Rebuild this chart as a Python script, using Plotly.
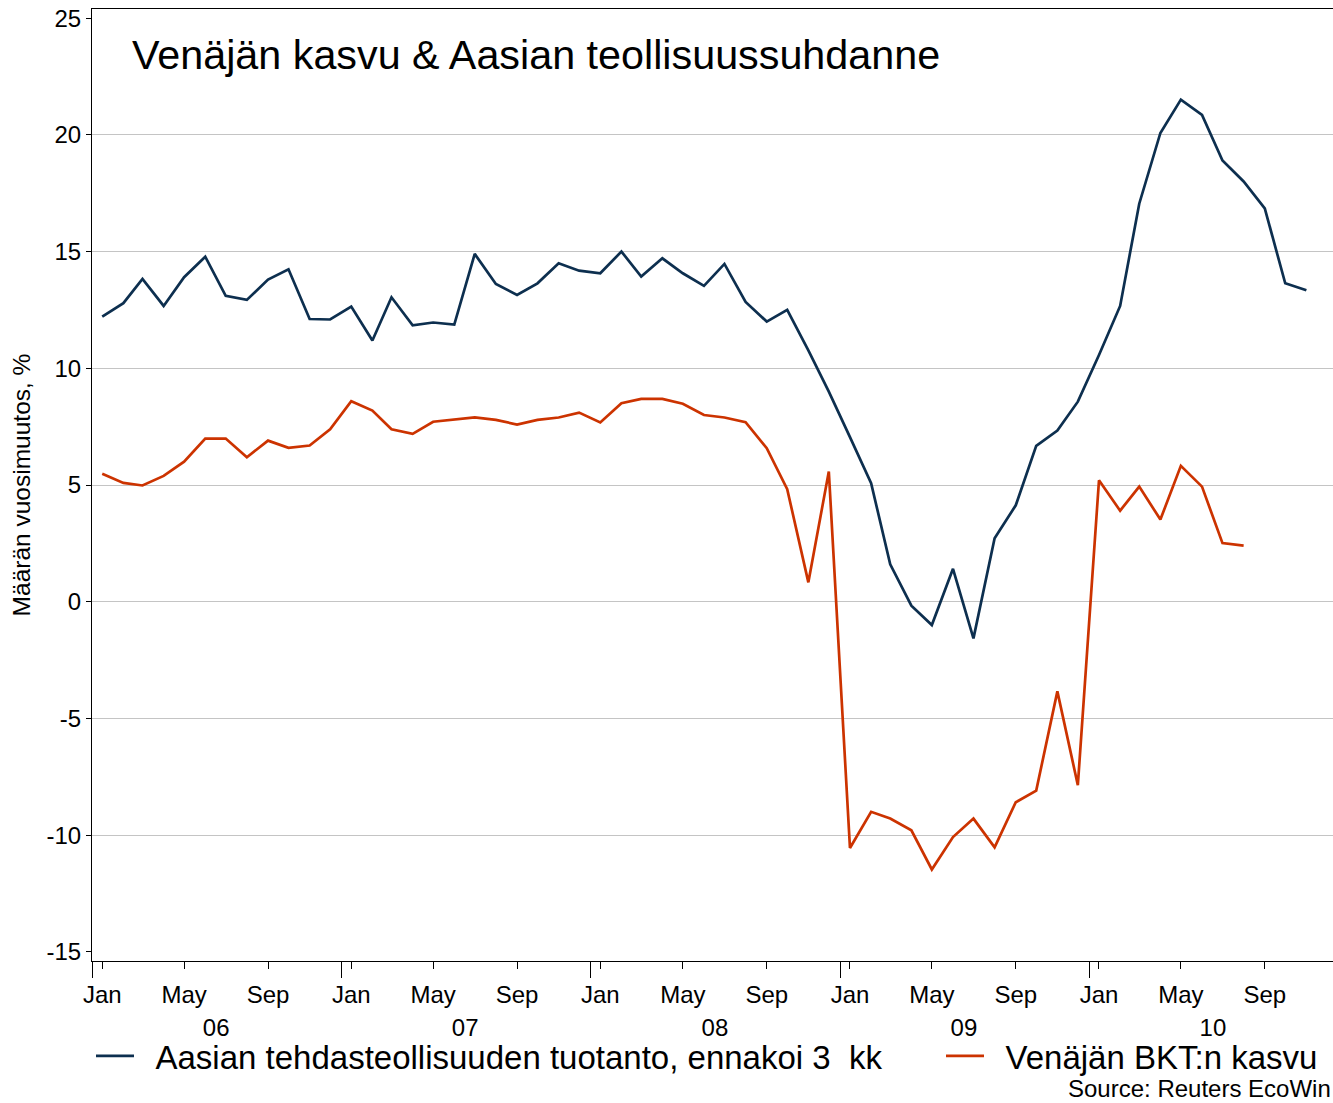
import plotly.graph_objects as go
import pandas as pd

# ---- data ----
asia = [12.21, 12.79, 13.83, 12.67, 13.90, 14.78, 13.10, 12.93, 13.80, 14.24, 12.11, 12.09,
        12.64, 11.19, 13.04, 11.84, 11.96, 11.87, 14.90, 13.61, 13.14, 13.64, 14.50, 14.18,
        14.07, 15.00, 13.93, 14.71, 14.07, 13.53, 14.47, 12.84, 12.00, 12.50, 10.77, 9.00,
        7.05, 5.08, 1.60, -0.17, -1.00, 1.41, -1.57, 2.72, 4.13, 6.68, 7.33, 8.57,
        10.57, 12.67, 17.05, 20.08, 21.51, 20.85, 18.90, 18.00, 16.85, 13.64, 13.34]
russia = [5.48, 5.09, 4.98, 5.39, 6.00, 6.99, 6.99, 6.19, 6.90, 6.59, 6.69, 7.39,
          8.59, 8.19, 7.39, 7.19, 7.71, 7.82, 7.90, 7.79, 7.59, 7.79, 7.89, 8.10,
          7.68, 8.50, 8.69, 8.69, 8.48, 8.00, 7.89, 7.69, 6.58, 4.82, 0.83, 5.58,
          -10.55, -9.00, -9.29, -9.79, -11.47, -10.08, -9.29, -10.52, -8.59, -8.09, -3.84, -7.86,
          5.20, 3.90, 4.93, 3.52, 5.82, 4.93, 2.51, 2.40]
start_month = "2006-01"
years = [2006, 2007, 2008, 2009, 2010]
year_labels = ["06", "07", "08", "09", "10"]
month_labels = ["Jan", "May", "Sep"]
month_numbers = [1, 5, 9]
y_ticks = [-15, -10, -5, 0, 5, 10, 15, 20, 25]
y_tick_text = ["-15", "-10", "-5", "0", "5", "10", "15", "20", "25"]
grid_values = [-10, -5, 0, 5, 10, 15, 20]
name_asia = "Aasian tehdasteollisuuden tuotanto, ennakoi 3  kk"
name_russia = "Venäjän BKT:n kasvu"
title_text = "Venäjän kasvu & Aasian teollisuussuhdanne"
y_title = "Määrän vuosimuutos, %"
source_text = "Source: Reuters EcoWin"

# ---- derived ----
def month_dates(n):
    return [d + pd.Timedelta(days=14) for d in pd.date_range(start_month + "-01", periods=n, freq="MS")]

x_asia = month_dates(len(asia))
x_russia = month_dates(len(russia))
tick_dates, tick_text = [], []
for y in years:
    for m, lab in zip(month_numbers, month_labels):
        tick_dates.append(pd.Timestamp(year=y, month=m, day=15))
        tick_text.append(lab)
year_starts = [pd.Timestamp(year=y, month=1, day=1) for y in years]
year_mids = [pd.Timestamp(year=y, month=7, day=1) for y in years]

X_RANGE = ["2005-12-31", "2010-12-24"]
Y_RANGE = [-15.39, 25.39]
FONT = "Liberation Sans, Arial, sans-serif"
BLUE = "#0d2f4f"
RED = "#cc3300"
GAP = "\u2002"

fig = go.Figure()
fig.add_trace(go.Scatter(x=x_asia, y=asia, mode="lines", name=GAP + name_asia,
                         line=dict(color=BLUE, width=2.7), legend="legend"))
fig.add_trace(go.Scatter(x=x_russia, y=russia, mode="lines", name=GAP + name_russia,
                         line=dict(color=RED, width=2.7), legend="legend2"))
# empty helper traces so the overlay axes (year ticks / year labels / grid) are drawn
fig.add_trace(go.Scatter(x=[], y=[], xaxis="x2", yaxis="y", showlegend=False, hoverinfo="skip"))
fig.add_trace(go.Scatter(x=[], y=[], xaxis="x3", yaxis="y", showlegend=False, hoverinfo="skip"))
fig.add_trace(go.Scatter(x=[], y=[], xaxis="x", yaxis="y2", showlegend=False, hoverinfo="skip"))

fig.update_layout(
    width=1333, height=1103,
    margin=dict(l=92, r=0, t=9, b=142, autoexpand=False),
    paper_bgcolor="white", plot_bgcolor="white",
    font=dict(family=FONT, color="black", size=24),
    title=dict(text=title_text, font=dict(size=41.3, family=FONT, color="black"),
               xref="paper", x=(132 - 92) / 1241, xanchor="left",
               yref="container", y=1 - 55 / 1103, yanchor="middle"),
    xaxis=dict(type="date", range=X_RANGE, tickmode="array", tickvals=tick_dates, ticktext=tick_text,
               ticks="outside", ticklen=7, tickwidth=1, tickcolor="black",
               showline=True, linecolor="black", linewidth=1, mirror=True,
               showgrid=False, zeroline=False, tickfont=dict(size=24), ticklabelstandoff=5),
    xaxis2=dict(type="date", range=X_RANGE, overlaying="x", anchor="y", side="bottom",
                tickmode="array", tickvals=year_starts, ticks="outside", ticklen=16, tickwidth=1,
                tickcolor="black", showticklabels=False, showline=False, showgrid=False, zeroline=False),
    xaxis3=dict(type="date", range=X_RANGE, overlaying="x", anchor="y", side="bottom",
                tickmode="array", tickvals=year_mids, ticktext=year_labels, ticks="",
                showticklabels=True, showline=False, showgrid=False, zeroline=False,
                tickfont=dict(size=24), ticklabelstandoff=50),
    yaxis=dict(range=Y_RANGE, tickmode="array", tickvals=y_ticks, ticktext=y_tick_text,
               ticks="outside", ticklen=5, tickwidth=1, tickcolor="black",
               showline=True, linecolor="black", linewidth=1,
               showgrid=False, zeroline=False, tickfont=dict(size=24),
               title=dict(text=y_title, font=dict(size=24.5), standoff=8)),
    yaxis2=dict(range=Y_RANGE, overlaying="y", anchor="x", tickmode="array", tickvals=grid_values,
                showgrid=True, gridcolor="#c4c4c4", gridwidth=1, showticklabels=False, ticks="",
                showline=False, zeroline=False),
    legend=dict(xref="container", yref="container", x=91 / 1333, y=1 - 1056 / 1103,
                xanchor="left", yanchor="middle", orientation="h",
                font=dict(size=33), itemwidth=38, bgcolor="rgba(0,0,0,0)", borderwidth=0),
    legend2=dict(xref="container", yref="container", x=941 / 1333, y=1 - 1056 / 1103,
                 xanchor="left", yanchor="middle", orientation="h",
                 font=dict(size=33), itemwidth=38, bgcolor="rgba(0,0,0,0)", borderwidth=0),
    showlegend=True,
    annotations=[dict(text=source_text, xref="paper", yref="paper",
                      x=1.0, y=-(1088 - 961) / 952,
                      xanchor="right", yanchor="middle", showarrow=False,
                      font=dict(size=24, family=FONT, color="black"))],
)

fig.write_html("out.html", config={"displayModeBar": False},
               post_script="document.body.style.margin='0';document.body.style.overflow='hidden';")
